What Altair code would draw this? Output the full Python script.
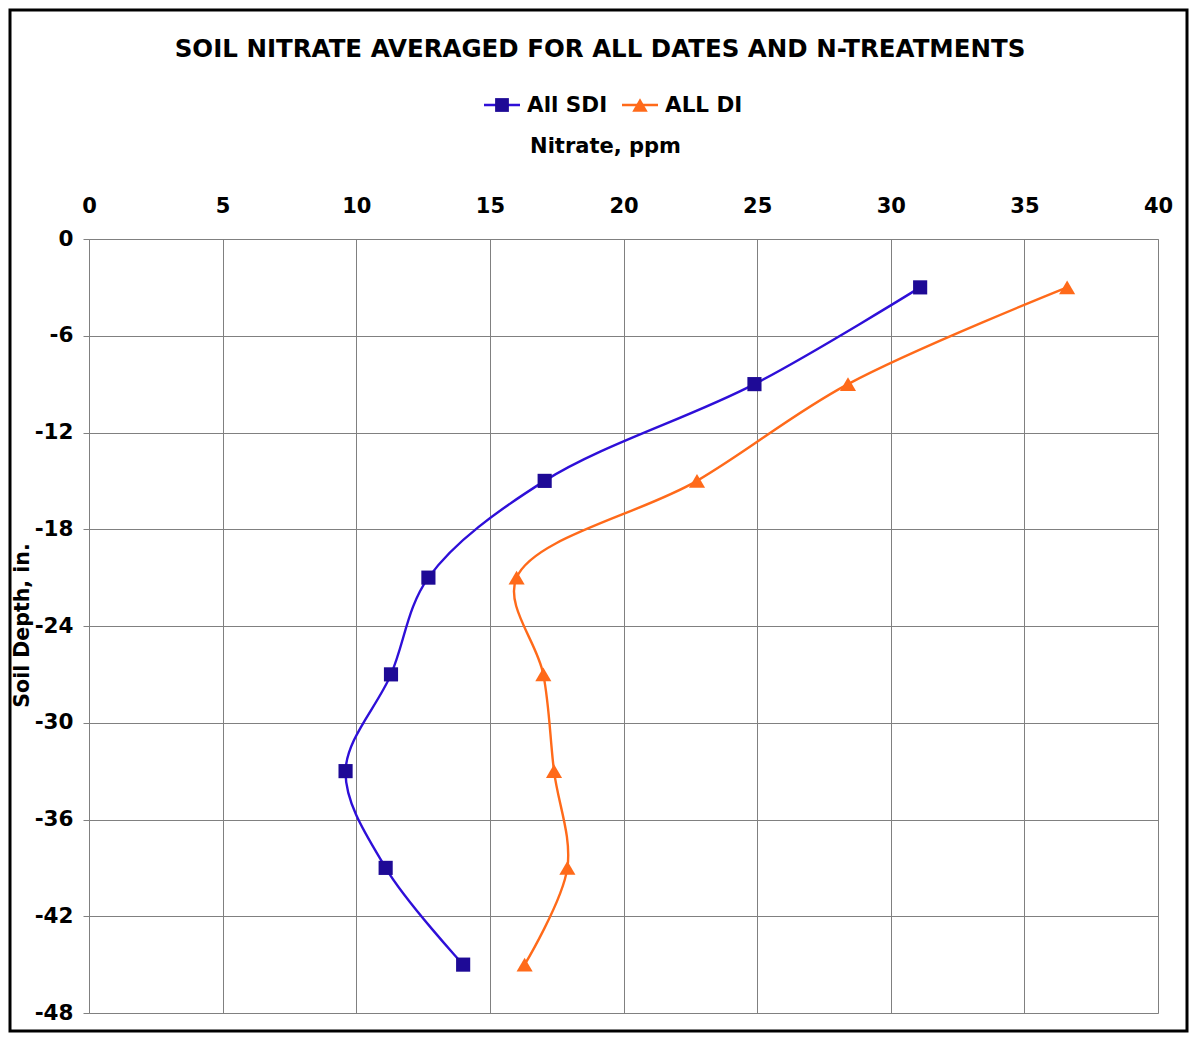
import altair as alt
import pandas as pd

depths = [-3, -9, -15, -21, -27, -33, -39, -45]
sdi = [31.1, 24.9, 17.05, 12.7, 11.3, 9.6, 11.1, 14.0]
di = [36.6, 28.4, 22.75, 16.0, 17.0, 17.4, 17.9, 16.3]
series_names = ["All SDI", "ALL DI"]
x_ticks = list(range(0, 41, 5))
y_ticks = list(range(-48, 1, 6))

rows = []
for name, vals in zip(series_names, [sdi, di]):
    for d, v in zip(depths, vals):
        rows.append({"series": name, "depth": d, "nitrate": v})
df = pd.DataFrame(rows)

line_colors = ["#2E0FD8", "#FF6A1A"]
marker_colors = ["#1E0A96", "#FF6A1A"]
FONT = "DejaVu Sans"

W, H = 1069, 774

xs = alt.Scale(domain=[0, 40], nice=False, zero=False)
ys = alt.Scale(domain=[-48, 0], nice=False, zero=False)

x_enc = alt.X("nitrate:Q", scale=xs, axis=alt.Axis(
    orient="top", values=x_ticks, ticks=False, labelPadding=23,
    labelExpr="toString(datum.value)",
    title="Nitrate, ppm", titleX=516, titleY=-93, titleBaseline="middle",
    titleFontSize=21, titleFontWeight="bold", titleFont=FONT,
    labelFontSize=21, labelFontWeight="bold", labelFont=FONT, labelColor="black",
    domainColor="#808080", gridColor="#808080", labelFlush=False))
y_enc = alt.Y("depth:Q", scale=ys, axis=alt.Axis(
    values=y_ticks, tickSize=6, tickColor="#808080", labelPadding=10,
    labelExpr="toString(datum.value)",
    title="Soil Depth, in.", titleX=-67, titleY=386, titleAngle=-90,
    titleBaseline="middle", titleAlign="center",
    titleFontSize=20.5, titleFontWeight="bold", titleFont=FONT,
    labelFontSize=21.5, labelFontWeight="bold", labelFont=FONT, labelColor="black",
    domainColor="#808080", gridColor="#808080", labelFlush=False))

base = alt.Chart(df)

lines = base.mark_line(interpolate="catmull-rom", strokeWidth=2.4).encode(
    x=x_enc, y=y_enc,
    color=alt.Color("series:N", scale=alt.Scale(domain=series_names, range=line_colors), legend=None),
    order=alt.Order("depth:Q", sort="descending"),
    detail="series:N",
)

points = base.mark_point(filled=True, opacity=1).encode(
    x="nitrate:Q", y="depth:Q",
    fill=alt.Fill("series:N", scale=alt.Scale(domain=series_names, range=marker_colors), legend=None),
    shape=alt.Shape("series:N", scale=alt.Scale(domain=series_names, range=["square", "triangle-up"]), legend=None),
    size=alt.Size("series:N", scale=alt.Scale(domain=series_names, range=[200, 260]), legend=None),
)

dummy = alt.Data(values=[{"a": 0}])

title = alt.Chart(dummy).mark_text(
    text="SOIL NITRATE AVERAGED FOR ALL DATES AND N-TREATMENTS",
    font=FONT, fontSize=24.5, fontWeight="bold", color="black",
    align="center", baseline="middle").encode(x=alt.value(511), y=alt.value(-189))

leg_layers = []
leg_specs = [(series_names[0], 395, 413, 438, line_colors[0], marker_colors[0], "square", 190),
             (series_names[1], 533, 551, 576, line_colors[1], marker_colors[1], "triangle-up", 240)]
for name, lx, mx, tx, lc, mc, shp, sz in leg_specs:
    leg_layers.append(alt.Chart(dummy).mark_rule(color=lc, strokeWidth=2.4).encode(
        x=alt.value(lx), x2=alt.value(lx + 36), y=alt.value(-134)))
    leg_layers.append(alt.Chart(dummy).mark_point(filled=True, opacity=1, color=mc, shape=shp, size=sz).encode(
        x=alt.value(mx), y=alt.value(-134)))
    leg_layers.append(alt.Chart(dummy).mark_text(text=name, font=FONT, fontSize=21.5, fontWeight="bold",
        color="black", align="left", baseline="middle").encode(x=alt.value(tx), y=alt.value(-133)))

border = alt.Chart(dummy).mark_rect(fillOpacity=0, stroke="black", strokeWidth=3).encode(
    x=alt.value(-79), x2=alt.value(1098), y=alt.value(-229), y2=alt.value(792))

chart = alt.layer(lines, points, title, *leg_layers, border).resolve_scale(
    fill="independent", shape="independent", size="independent"
).properties(
    width=W, height=H,
    autosize=alt.AutoSizeParams(type="none"),
    padding={"left": 81, "top": 231, "right": 31, "bottom": 20},
).configure_view(fill="#CCCCCC", stroke="#A8A8A8", strokeWidth=2
).configure(background="white")

chart.save("out.html", embed_options={"renderer": "svg", "actions": False})
